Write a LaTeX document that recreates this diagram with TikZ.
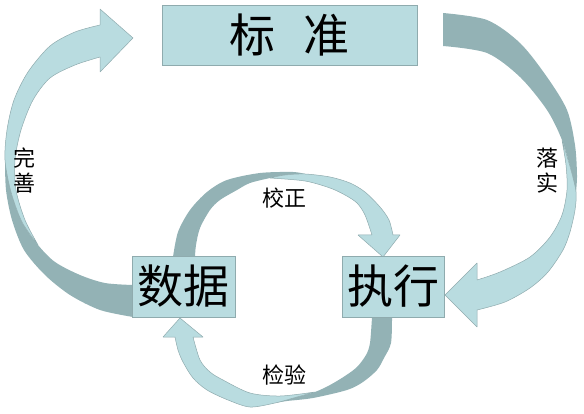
\documentclass[tikz,border=0pt]{standalone}
\usepackage{fontspec}
\newfontfamily\cjk{Noto Sans CJK SC}
\usepackage{xcolor}
\usetikzlibrary{positioning}
\definecolor{boxfill}{HTML}{B9DCE0}
\definecolor{bandfill}{HTML}{93B2B5}
\definecolor{edgeline}{HTML}{8FABAE}
\tikzset{
  box/.style={draw=edgeline, fill=boxfill, line width=.6pt, inner sep=0pt,
    font=\cjk\fontsize{46}{46}\selectfont},
  front/.style={draw=edgeline, fill=boxfill, line width=.5pt, line join=round},
  back/.style={fill=bandfill},
  lbl/.style={font=\cjk\fontsize{22}{25}\selectfont, align=center, inner sep=0pt}
}

\begin{document}
\begin{tikzpicture}[x=1pt,y=-1pt]
\useasboundingbox (0,0) rectangle (584,414);
% left: data -> standard
\fill[back] plot[smooth] coordinates {(5,160) (6,190) (12,220) (24,250) (45,275) (70,295) (100,310) (133,317)}
  -- plot[smooth] coordinates {(133,285) (105,283) (80,275) (55,262) (38,245) (22,222) (11,192) (5,160)} -- cycle;
\filldraw[front] plot[smooth] coordinates {(38,245) (22,222) (11,192) (5,160) (7,130) (14,100) (28,72) (50,46) (75,32) (100,25)}
  -- (100,9) -- (133,38) -- (100,72) -- (100,57)
  -- plot[smooth] coordinates {(100,57) (75,65) (50,78) (33,100) (21,130) (15,160) (16,190) (25,220) (38,245)} -- cycle;
% right: standard -> execute
\fill[back] plot[smooth] coordinates {(443,13) (487,20) (520,43) (547,77) (567,110) (575,145) (577,175) (576,192)}
  -- plot[smooth] coordinates {(576,192) (571,170) (562,140) (547,110) (520,77) (487,53) (443,46)} -- cycle;
\filldraw[front] plot[smooth] coordinates {(562,140) (571,170) (576,192) (575,210) (570,232) (563,250) (548,272) (530,288) (505,302) (477,310)}
  -- (477,327) -- (445,295) -- (477,263) -- (477,280)
  -- plot[smooth] coordinates {(477,280) (500,272) (530,257) (550,237) (562,215) (567,190) (566,165) (562,140)} -- cycle;
% inner top: data -> execute
\fill[back] plot[smooth] coordinates {(173,257) (178,232) (190,210) (207,192) (227,180) (260,173) (293,172) (305,174)}
  -- plot[smooth] coordinates {(305,174) (285,175) (270,178) (250,183) (237,190) (220,200) (210,210) (200,228) (196,245) (195,257)} -- cycle;
\filldraw[front] plot[smooth] coordinates {(270,178) (285,175) (305,174) (330,177) (350,183) (365,192) (380,207) (389,220) (393,235)}
  -- (400,235) -- (383,257) -- (358,235) -- (372,235)
  -- plot[smooth] coordinates {(372,235) (365,215) (357,203) (345,195) (330,188) (305,181) (270,178)} -- cycle;
% inner bottom: execute -> data
\fill[back] plot[smooth] coordinates {(392,317) (391,343) (384,358) (377,370) (363,382) (347,390) (313,398) (287,401) (275,403)}
  -- plot[smooth] coordinates {(275,403) (297,397) (315,392) (330,385) (345,376) (357,367) (366,355) (370,343) (372,317)} -- cycle;
\filldraw[front] plot[smooth] coordinates {(315,392) (297,397) (275,403) (250,407) (228,400) (207,390) (193,378) (183,362) (178,350) (175,337)}
  -- (163,337) -- (180,318) -- (203,337) -- (193,337)
  -- plot[smooth] coordinates {(193,337) (200,360) (210,372) (223,380) (250,393) (280,396) (315,392)} -- cycle;
% boxes
\node[box, minimum width=255pt, minimum height=60pt] (std) at (289.5,35) {标\hspace{0.6em}准};
\node[box, minimum width=103pt, minimum height=61pt] (data) at (183.5,286.5) {数据};
\node[box, minimum width=102pt, minimum height=61pt, right=107pt of data] (exec) {执行};
% labels
\node[lbl] (perfect) at (24,170.5) {完\\善};
\node[lbl] (apply) at (547,170.5) {落\\实};
\node[lbl] (correct) at (284,198) {校正};
\node[lbl] (check) at (284,375) {检验};
\end{tikzpicture}
\end{document}
